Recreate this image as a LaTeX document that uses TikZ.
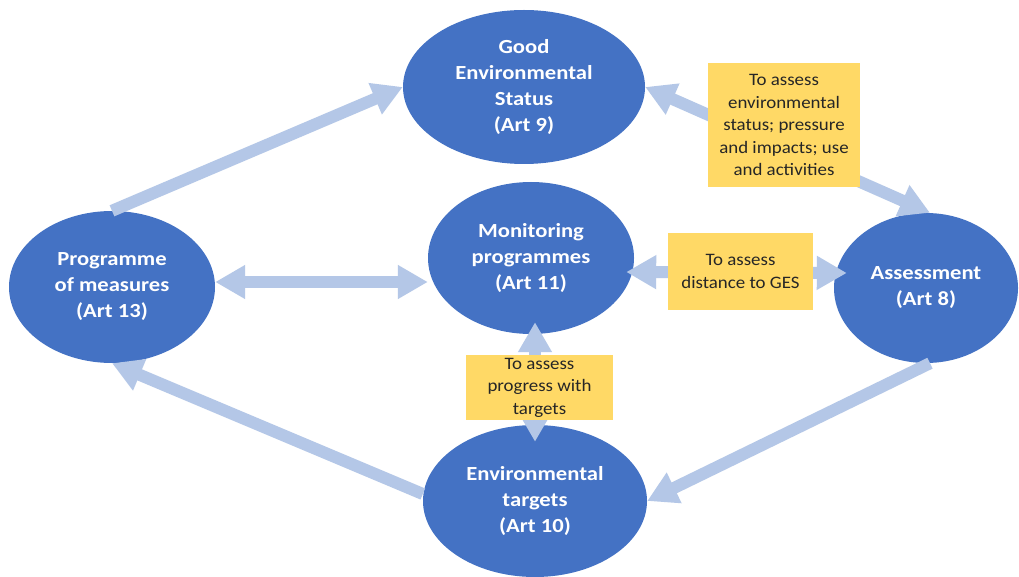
\documentclass[tikz,border=0pt]{standalone}
\usepackage{fontspec}
\setmainfont[FakeStretch=1.08]{Carlito}
\newfontfamily\ellfont[FakeStretch=1.13]{Carlito}
\usetikzlibrary{shapes.geometric,arrows.meta,calc}
\definecolor{ellblue}{HTML}{4472C4}
\definecolor{arrblue}{HTML}{B4C7E7}
\definecolor{boxyel}{HTML}{FFD966}
\definecolor{boxtxt}{HTML}{262626}
\tikzset{
  ell/.style={ellipse, fill=ellblue, inner sep=0pt, text=white, align=center,
    font=\ellfont\fontsize{20}{26}\selectfont\bfseries},
  note/.style={rectangle, fill=boxyel, inner sep=0pt, text=boxtxt, align=center,
    font=\fontsize{17.5}{22.5}\selectfont},
  conn/.style={draw=arrblue, line width=12pt,
    -{Triangle[width=32pt,length=30pt,fill=arrblue]}},
  dconn/.style={draw=arrblue, line width=12pt,
    {Triangle[width=32pt,length=30pt,fill=arrblue]}-{Triangle[width=32pt,length=30pt,fill=arrblue]}},
}
\begin{document}
\begin{tikzpicture}[x=1pt,y=-1pt]
\useasboundingbox[fill=white] (0,0) rectangle (1019,577);
% ellipses
\node[ell, minimum width=242pt, minimum height=154pt] (ges) at (524,87) {Good\\Environmental\\Status\\(Art 9)};
\node[ell, minimum width=206pt, minimum height=152pt] (mon) at (531,258) {Monitoring\\programmes\\(Art 11)};
\node[ell, minimum width=206pt, minimum height=152pt] (prog) at (112,287) {Programme\\of measures\\(Art 13)};
\node[ell, minimum width=184pt, minimum height=150pt] (asm) at (926,288) {Assessment\\(Art 8)};
\node[ell, minimum width=224pt, minimum height=152pt] (env) at (535,501) {Environmental\\targets\\(Art 10)};
% connectors
\draw[conn] (prog.north) -- (ges.west);
\draw[dconn] ([yshift=5pt]prog.east) -- ([yshift=-24pt]mon.west);
\draw[dconn] (ges.east) -- ([xshift=4pt]asm.north);
\draw[dconn] ([xshift=-8pt,yshift=-14pt]mon.east) -- ([xshift=13pt,yshift=15pt]asm.west);
\draw[dconn] ([xshift=4pt,yshift=12pt]mon.south) -- ([yshift=-17pt]env.north);
\draw[conn] ([xshift=4pt]asm.south) -- (env.east);
\draw[conn] ([yshift=7pt]env.west) -- (prog.south);
% notes
\node[note, minimum width=152pt, minimum height=124pt] (n1) at (784,125) {To assess\\environmental\\status; pressure\\and impacts; use\\and activities};
\node[note, minimum width=145pt, minimum height=77pt] (n2) at (740.5,271.5) {To assess\\distance to GES};
\node[note, minimum width=147pt, minimum height=65pt] (n3) at (539.5,387.5) {To assess\\progress with\\targets};
\end{tikzpicture}
\end{document}
